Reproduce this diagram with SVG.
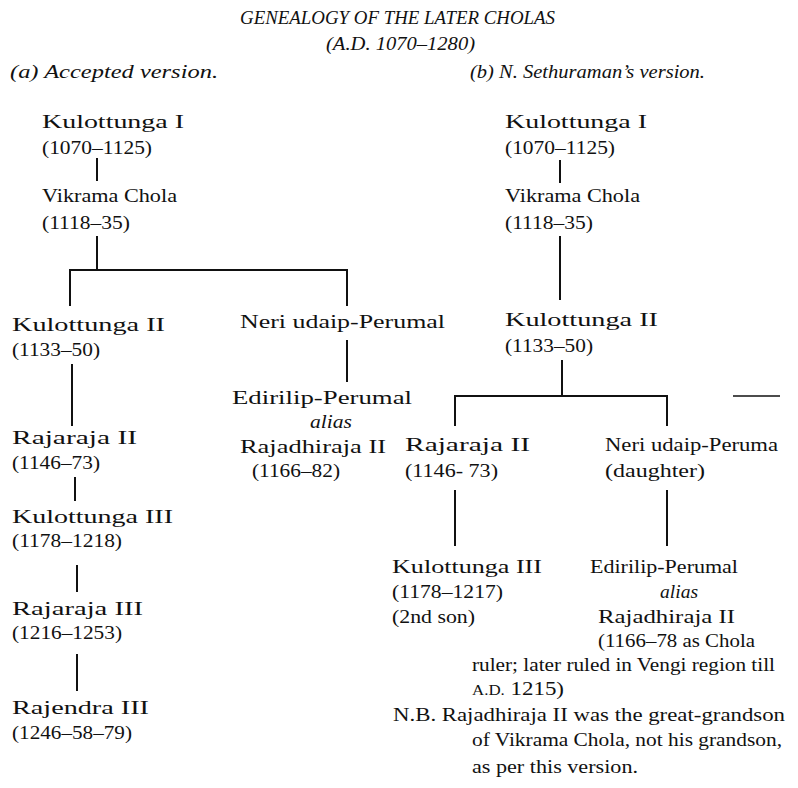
<svg xmlns="http://www.w3.org/2000/svg" width="798" height="788" viewBox="0 0 798 788">
<style>
text{font-family:"Liberation Serif","DejaVu Serif",serif;font-size:19px;fill:#111}
.i{font-style:italic}
.h{font-size:18px}
.c line{stroke:#111;stroke-width:2}
</style>
<rect width="798" height="788" fill="#fff"/>
<g id="title">
<text class="i" x="240" y="24" textLength="315" lengthAdjust="spacingAndGlyphs">GENEALOGY OF THE LATER CHOLAS</text>
<text class="i" x="326" y="50" textLength="149" lengthAdjust="spacingAndGlyphs">(A.D. 1070–1280)</text>
<text class="i h" x="10" y="78" textLength="208" lengthAdjust="spacingAndGlyphs">(a)  Accepted version.</text>
<text class="i h" x="470" y="78" textLength="235" lengthAdjust="spacingAndGlyphs">(b)  N. Sethuraman’s version.</text>
</g>
<g class="c" id="connectors">
<line x1="97" y1="158" x2="97" y2="181"/>
<line x1="97" y1="236" x2="97" y2="271"/>
<line x1="69" y1="270" x2="348" y2="270"/>
<line x1="70" y1="270" x2="70" y2="306"/>
<line x1="347" y1="270" x2="347" y2="306"/>
<line x1="72" y1="364" x2="72" y2="426"/>
<line x1="347" y1="340" x2="347" y2="382"/>
<line x1="75" y1="477" x2="75" y2="501"/>
<line x1="77" y1="565" x2="77" y2="592"/>
<line x1="77" y1="654" x2="77" y2="691"/>
<line x1="560" y1="160" x2="560" y2="183"/>
<line x1="560" y1="236" x2="560" y2="300"/>
<line x1="562" y1="360" x2="562" y2="397"/>
<line x1="454" y1="396" x2="668" y2="396"/>
<line x1="455" y1="396" x2="455" y2="426"/>
<line x1="667" y1="396" x2="667" y2="426"/>
<line x1="733" y1="396" x2="780" y2="396" style="stroke-width:1.5"/>
<line x1="455" y1="490" x2="455" y2="546"/>
<line x1="667" y1="490" x2="667" y2="546"/>
</g>
<g id="a-kulottunga1"><text x="42" y="128" textLength="142" lengthAdjust="spacingAndGlyphs">Kulottunga I</text><text x="42" y="154" textLength="110" lengthAdjust="spacingAndGlyphs">(1070–1125)</text></g>
<g id="a-vikrama"><text x="42" y="202" textLength="135" lengthAdjust="spacingAndGlyphs">Vikrama Chola</text><text x="42" y="229" textLength="88" lengthAdjust="spacingAndGlyphs">(1118–35)</text></g>
<g id="a-kulottunga2"><text x="12" y="331" textLength="153" lengthAdjust="spacingAndGlyphs">Kulottunga II</text><text x="12" y="356" textLength="88" lengthAdjust="spacingAndGlyphs">(1133–50)</text></g>
<g id="a-neri"><text x="240" y="328" textLength="205" lengthAdjust="spacingAndGlyphs">Neri udaip-Perumal</text></g>
<g id="a-edirilip"><text x="232" y="404" textLength="180" lengthAdjust="spacingAndGlyphs">Edirilip-Perumal</text><text class="i" x="310" y="428" textLength="42" lengthAdjust="spacingAndGlyphs">alias</text><text x="240" y="453" textLength="146" lengthAdjust="spacingAndGlyphs">Rajadhiraja II</text><text x="252" y="477" textLength="88" lengthAdjust="spacingAndGlyphs">(1166–82)</text></g>
<g id="a-rajaraja2"><text x="12" y="444" textLength="125" lengthAdjust="spacingAndGlyphs">Rajaraja II</text><text x="12" y="469" textLength="88" lengthAdjust="spacingAndGlyphs">(1146–73)</text></g>
<g id="a-kulottunga3"><text x="12" y="523" textLength="161" lengthAdjust="spacingAndGlyphs">Kulottunga III</text><text x="12" y="547" textLength="110" lengthAdjust="spacingAndGlyphs">(1178–1218)</text></g>
<g id="a-rajaraja3"><text x="12" y="615" textLength="131" lengthAdjust="spacingAndGlyphs">Rajaraja III</text><text x="12" y="639" textLength="110" lengthAdjust="spacingAndGlyphs">(1216–1253)</text></g>
<g id="a-rajendra3"><text x="12" y="714" textLength="137" lengthAdjust="spacingAndGlyphs">Rajendra III</text><text x="12" y="739" textLength="120" lengthAdjust="spacingAndGlyphs">(1246–58–79)</text></g>
<g id="b-kulottunga1"><text x="505" y="128" textLength="142" lengthAdjust="spacingAndGlyphs">Kulottunga I</text><text x="505" y="154" textLength="110" lengthAdjust="spacingAndGlyphs">(1070–1125)</text></g>
<g id="b-vikrama"><text x="505" y="202" textLength="135" lengthAdjust="spacingAndGlyphs">Vikrama Chola</text><text x="505" y="229" textLength="88" lengthAdjust="spacingAndGlyphs">(1118–35)</text></g>
<g id="b-kulottunga2"><text x="505" y="326" textLength="153" lengthAdjust="spacingAndGlyphs">Kulottunga II</text><text x="505" y="352" textLength="88" lengthAdjust="spacingAndGlyphs">(1133–50)</text></g>
<g id="b-rajaraja2"><text x="405" y="451" textLength="125" lengthAdjust="spacingAndGlyphs">Rajaraja II</text><text x="405" y="477" textLength="93" lengthAdjust="spacingAndGlyphs">(1146- 73)</text></g>
<g id="b-neri"><text x="605" y="451" textLength="173" lengthAdjust="spacingAndGlyphs">Neri udaip-Peruma</text><text x="605" y="477" textLength="100" lengthAdjust="spacingAndGlyphs">(daughter)</text></g>
<g id="b-kulottunga3"><text x="392" y="573" textLength="150" lengthAdjust="spacingAndGlyphs">Kulottunga III</text><text x="392" y="598" textLength="111" lengthAdjust="spacingAndGlyphs">(1178–1217)</text><text x="392" y="623" textLength="83" lengthAdjust="spacingAndGlyphs">(2nd son)</text></g>
<g id="b-edirilip"><text x="590" y="573" textLength="148" lengthAdjust="spacingAndGlyphs">Edirilip-Perumal</text><text class="i" x="660" y="598" textLength="38" lengthAdjust="spacingAndGlyphs">alias</text><text x="598" y="623" textLength="137" lengthAdjust="spacingAndGlyphs">Rajadhiraja II</text><text x="598" y="647" textLength="157" lengthAdjust="spacingAndGlyphs">(1166–78 as Chola</text><text x="472" y="671" textLength="303" lengthAdjust="spacingAndGlyphs">ruler; later ruled in Vengi region till</text><text x="472" y="695" textLength="92" lengthAdjust="spacingAndGlyphs"><tspan font-size="14">A.D.</tspan> 1215)</text></g>
<g id="note"><text x="393" y="721" textLength="392" lengthAdjust="spacingAndGlyphs">N.B.  Rajadhiraja II was the great-grandson</text><text x="472" y="746" textLength="310" lengthAdjust="spacingAndGlyphs">of Vikrama Chola, not his grandson,</text><text x="472" y="773" textLength="166" lengthAdjust="spacingAndGlyphs">as per this version.</text></g>
</svg>
